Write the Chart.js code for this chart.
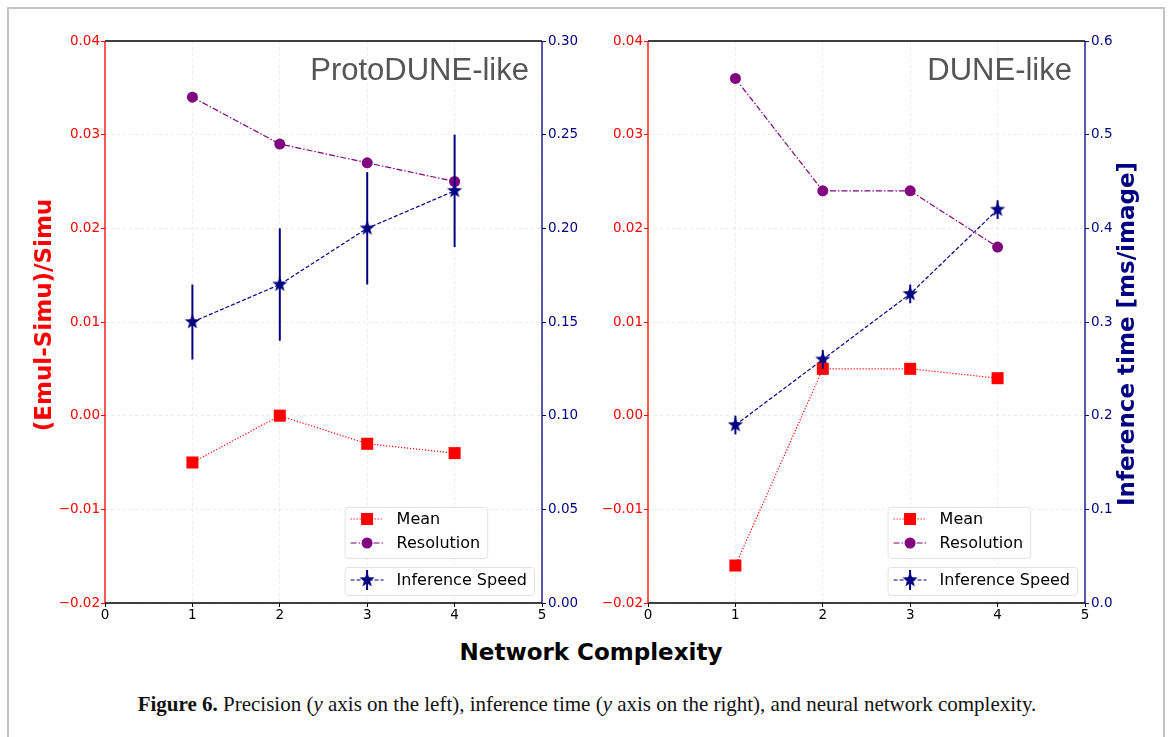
<!DOCTYPE html>
<html>
<head>
<meta charset="utf-8">
<script src="https://cdn.jsdelivr.net/npm/chart.js@4.4.1/dist/chart.umd.min.js"></script>
<style>
  body { margin: 0; background: #fff; width: 1168px; height: 737px; overflow: hidden; position: relative; }
  #frame { position: absolute; left: 7px; top: 7px; width: 1154px; height: 760px; border: 2px solid #c4c4c4; border-bottom: none; }
  canvas { position: absolute; top: 0; }
  #xlabel { position: absolute; left: 7px; width: 1168px; top: 638px; text-align: center;
            font: bold 23px "DejaVu Sans"; line-height: 28px; color: #000; }
  #caption { position: absolute; left: 0; width: 1174px; top: 691px; text-align: center;
             font: 21px "Liberation Serif"; line-height: 26px; color: #111; }
</style>
</head>
<body>
<div id="frame"></div>
<canvas id="protoChart" width="590" height="630" style="left:0;width:590px;height:630px"></canvas>
<canvas id="duneChart" width="578" height="630" style="left:590px;width:578px;height:630px"></canvas>
<div id="xlabel">Network Complexity</div>
<div id="caption"><b>Figure 6.</b> Precision (<i>y</i> axis on the left), inference time (<i>y</i> axis on the right), and neural network complexity.</div>

<script>
// Data
const complexity = [1, 2, 3, 4];

const protoMean = [-0.005, 0.000, -0.003, -0.004];
const protoResolution = [0.034, 0.029, 0.027, 0.025];
const protoSpeed = [0.15, 0.17, 0.20, 0.22];
const protoSpeedErr = [0.02, 0.03, 0.03, 0.03];

const duneMean = [-0.016, 0.005, 0.005, 0.004];
const duneResolution = [0.036, 0.024, 0.024, 0.018];
const duneSpeed = [0.19, 0.26, 0.33, 0.42];
const duneSpeedErr = [0.01, 0.01, 0.01, 0.01];

const RED = '#ff0000';
const PURPLE = '#800080';
const NAVY = '#000080';

// filled five point star, like matplotlib '*'
function starImage(color, outer, inner) {
    const c = document.createElement('canvas');
    const s = Math.ceil(outer * 2 + 2);
    c.width = s; c.height = s;
    const g = c.getContext('2d');
    g.fillStyle = color;
    g.beginPath();
    for (let i = 0; i < 10; i++) {
        const r = i % 2 === 0 ? outer : inner;
        const a = -Math.PI / 2 + i * Math.PI / 5;
        g.lineTo(s / 2 + r * Math.cos(a), s / 2 + r * Math.sin(a));
    }
    g.closePath();
    g.fill();
    return c;
}
const star = starImage(NAVY, 8, 3.3);

const toPoints = arr => complexity.map((x, i) => ({ x: x, y: arr[i] }));
const minus = s => s.replace('-', '\u2212');

function fmt(v, d) {
    if (Math.abs(v) < 1e-9) v = 0;
    return minus(v.toFixed(d));
}

// extra drawing: spines, error bars, panel name, legends, axis titles
const panelDecor = {
    id: 'panelDecor',
    afterDatasetsDraw(chart, args, opts) {
        const ctx = chart.ctx;
        const xs = chart.scales.x, ys = chart.scales.y2;
        ctx.save();
        ctx.strokeStyle = NAVY;
        ctx.lineWidth = 2;
        complexity.forEach((x, i) => {
            const px = xs.getPixelForValue(x);
            const v = opts.speed[i], e = opts.errors[i];
            ctx.beginPath();
            ctx.moveTo(px, ys.getPixelForValue(v - e));
            ctx.lineTo(px, ys.getPixelForValue(v + e));
            ctx.stroke();
        });
        ctx.restore();
    },
    afterDraw(chart, args, opts) {
        const ctx = chart.ctx;
        const a = chart.chartArea;
        ctx.save();
        // spines
        const spine = (x1, y1, x2, y2, c) => {
            ctx.strokeStyle = c; ctx.lineWidth = 1.3;
            ctx.beginPath(); ctx.moveTo(x1, y1); ctx.lineTo(x2, y2); ctx.stroke();
        };
        spine(a.left, a.top, a.right, a.top, '#000');
        spine(a.left, a.bottom, a.right, a.bottom, '#000');
        spine(a.left, a.top, a.left, a.bottom, RED);
        spine(a.right, a.top, a.right, a.bottom, NAVY);

        // panel name
        ctx.fillStyle = '#555';
        ctx.font = '31px "Liberation Sans"';
        ctx.textAlign = 'right';
        ctx.textBaseline = 'alphabetic';
        ctx.fillText(opts.name, a.right - 13, a.top + 39);

        // axis titles, both reading bottom to top
        ctx.font = 'bold 23px "DejaVu Sans"';
        ctx.textAlign = 'center';
        ctx.textBaseline = 'middle';
        (opts.titles || []).forEach(t => {
            ctx.save();
            ctx.translate(t.x, t.y);
            ctx.rotate(-Math.PI / 2);
            ctx.fillStyle = t.color;
            ctx.fillText(t.text, 0, 0);
            ctx.restore();
        });

        // legends
        ctx.font = '16px "DejaVu Sans"';
        ctx.textAlign = 'left';
        const ds = chart.data.datasets;
        const w1 = Math.max(ctx.measureText(ds[0].label).width, ctx.measureText(ds[1].label).width);
        const w2 = ctx.measureText(ds[2].label).width;
        const right = a.right - 8;
        const left = right - 7 - w2 - 52;
        const box = (x, y, w, h) => {
            ctx.fillStyle = 'rgba(255,255,255,0.8)';
            ctx.strokeStyle = '#e2e2e2';
            ctx.lineWidth = 1;
            ctx.beginPath();
            ctx.roundRect(x + 0.5, y + 0.5, w, h, 3);
            ctx.fill(); ctx.stroke();
        };
        const b2top = a.bottom - 8 - 28;
        box(left, a.bottom - 44 - 52, 52 + w1 + 7, 51);
        box(left, b2top, right - left, 28);

        const entry = (d, y, err) => {
            const x1 = left + 6, x2 = left + 39, xm = (x1 + x2) / 2;
            ctx.save();
            ctx.strokeStyle = d.borderColor;
            ctx.lineWidth = 1.2;
            ctx.setLineDash(d.borderDash);
            ctx.beginPath(); ctx.moveTo(x1, y); ctx.lineTo(x2, y); ctx.stroke();
            ctx.restore();
            if (err) {
                ctx.strokeStyle = NAVY; ctx.lineWidth = 2;
                ctx.beginPath(); ctx.moveTo(xm, y - 10); ctx.lineTo(xm, y + 10); ctx.stroke();
            }
            ctx.fillStyle = d.pointBackgroundColor;
            if (d.pointStyle === 'rect') {
                ctx.fillRect(xm - 6, y - 6, 12, 12);
            } else if (d.pointStyle === 'circle') {
                ctx.beginPath(); ctx.arc(xm, y, 5.5, 0, Math.PI * 2); ctx.fill();
            } else {
                ctx.drawImage(d.pointStyle, xm - d.pointStyle.width / 2, y - d.pointStyle.height / 2);
            }
            ctx.fillStyle = '#000';
            ctx.textBaseline = 'middle';
            ctx.fillText(d.label, left + 52, y + 1);
        };
        entry(ds[0], a.bottom - 84, false);
        entry(ds[1], a.bottom - 60, false);
        entry(ds[2], a.bottom - 23, true);
        ctx.restore();
    }
};

function makeChart(id, mean, resolution, speed, errors, cfg) {
    const gridLine = { color: 'rgba(0,0,0,0.08)', tickLength: 4, tickBorderDash: [], tickWidth: 1 };
    return new Chart(document.getElementById(id), {
        type: 'line',
        data: {
            datasets: [
                {
                    label: 'Mean', data: toPoints(mean), yAxisID: 'y',
                    borderColor: RED, borderWidth: 1.2, borderDash: [1.2, 1.8],
                    pointStyle: 'rect', pointRadius: 8.5, pointBackgroundColor: RED,
                    pointBorderWidth: 0, tension: 0
                },
                {
                    label: 'Resolution', data: toPoints(resolution), yAxisID: 'y',
                    borderColor: PURPLE, borderWidth: 1.2, borderDash: [6, 2, 1.5, 2],
                    pointStyle: 'circle', pointRadius: 5.5, pointBackgroundColor: PURPLE,
                    pointBorderWidth: 0, tension: 0
                },
                {
                    label: 'Inference Speed', data: toPoints(speed), yAxisID: 'y2',
                    borderColor: NAVY, borderWidth: 1.2, borderDash: [4, 2],
                    pointStyle: star, pointBackgroundColor: NAVY,
                    pointBorderWidth: 0, tension: 0
                }
            ]
        },
        options: {
            responsive: false,
            animation: false,
            layout: { padding: { top: 41, left: 0, right: 0, bottom: 0 } },
            scales: {
                x: {
                    type: 'linear', min: 0, max: 5,
                    afterFit: s => { s.height = 27; },
                    ticks: { stepSize: 1, color: '#000', padding: 0, font: { family: 'DejaVu Sans', size: 13.5 } },
                    grid: Object.assign({}, gridLine, { tickColor: '#000' }),
                    border: { display: false, dash: [3, 3] }
                },
                y: {
                    position: 'left', min: -0.02, max: 0.04,
                    afterFit: s => { s.width = cfg.leftWidth; },
                    ticks: {
                        stepSize: 0.01, color: RED, padding: 1,
                        font: { family: 'DejaVu Sans', size: 13.5 },
                        callback: v => fmt(v, 2)
                    },
                    grid: Object.assign({}, gridLine, { tickColor: RED }),
                    border: { display: false, dash: [3, 3] }
                },
                y2: {
                    position: 'right', min: 0, max: cfg.rightMax,
                    afterFit: s => { s.width = cfg.rightWidth; },
                    ticks: {
                        stepSize: cfg.rightStep, color: NAVY, padding: 2,
                        font: { family: 'DejaVu Sans', size: 13.5 },
                        callback: v => fmt(v, cfg.rightDigits)
                    },
                    grid: Object.assign({}, gridLine, { drawOnChartArea: false, tickColor: NAVY }),
                    border: { display: false }
                }
            },
            plugins: {
                legend: { display: false },
                tooltip: { enabled: false },
                panelDecor: { name: cfg.name, speed: speed, errors: errors, titles: cfg.titles }
            }
        },
        plugins: [panelDecor]
    });
}

makeChart('protoChart', protoMean, protoResolution, protoSpeed, protoSpeedErr, {
    name: 'ProtoDUNE-like', leftWidth: 105, rightWidth: 48,
    rightMax: 0.30, rightStep: 0.05, rightDigits: 2,
    titles: [{ text: '(Emul-Simu)/Simu', color: RED, x: 45, y: 315 }]
});

makeChart('duneChart', duneMean, duneResolution, duneSpeed, duneSpeedErr, {
    name: 'DUNE-like', leftWidth: 58, rightWidth: 83,
    rightMax: 0.6, rightStep: 0.1, rightDigits: 1,
    titles: [{ text: 'Inference time [ms/image]', color: NAVY, x: 538, y: 334 }]
});
</script>
</body>
</html>
